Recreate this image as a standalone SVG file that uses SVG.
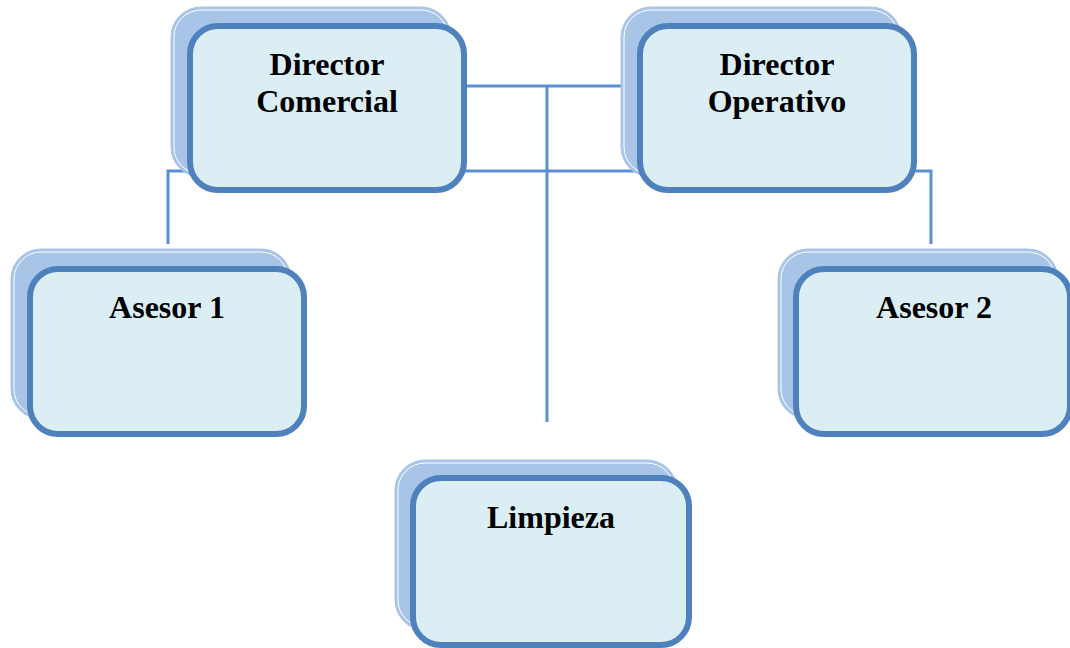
<svg xmlns="http://www.w3.org/2000/svg" width="1070" height="648" viewBox="0 0 1070 648">
<style>
.back{fill:#A8C5E8;stroke:#A8C5E8;stroke-width:1}
.backline{fill:none;stroke:#FFFFFF;stroke-width:1}
.front{fill:#DBEEF4;stroke:#4F81BD;stroke-width:6}
.conn{fill:none;stroke:#5B8FD5;stroke-width:3}
.lbl{font-family:"Liberation Serif","Times New Roman",serif;font-weight:bold;font-size:32px;fill:#000;text-anchor:middle}
</style>
<rect width="1070" height="648" fill="#FFFFFF"/>
<g id="connectors">
<line class="conn" x1="460" y1="86" x2="645" y2="86"/>
<polyline class="conn" points="168,244 168,171 931,171 931,244"/>
<line class="conn" x1="547" y1="86" x2="547" y2="422"/>
</g>
<g id="director-comercial">
<rect class="back" x="171" y="7" width="280" height="170" rx="30"/>
<rect class="backline" x="174" y="10" width="274" height="164" rx="27"/>
<rect class="front" x="190" y="26" width="274" height="164" rx="28"/>
<text class="lbl" x="327" y="75">Director</text>
<text class="lbl" x="327" y="112">Comercial</text>
</g>
<g id="director-operativo">
<rect class="back" x="621" y="7" width="280" height="170" rx="30"/>
<rect class="backline" x="624" y="10" width="274" height="164" rx="27"/>
<rect class="front" x="640" y="26" width="274" height="164" rx="28"/>
<text class="lbl" x="777" y="75">Director</text>
<text class="lbl" x="777" y="112">Operativo</text>
</g>
<g id="asesor-1">
<rect class="back" x="11" y="249" width="280" height="170" rx="30"/>
<rect class="backline" x="14" y="252" width="274" height="164" rx="27"/>
<rect class="front" x="30" y="269" width="274" height="165" rx="28"/>
<text class="lbl" x="167" y="318">Asesor 1</text>
</g>
<g id="asesor-2">
<rect class="back" x="778" y="249" width="280" height="170" rx="30"/>
<rect class="backline" x="781" y="252" width="274" height="164" rx="27"/>
<rect class="front" x="796" y="269" width="274" height="165" rx="28"/>
<text class="lbl" x="934" y="318">Asesor 2</text>
</g>
<g id="limpieza">
<rect class="back" x="395" y="460" width="282" height="170" rx="30"/>
<rect class="backline" x="398" y="463" width="276" height="164" rx="27"/>
<rect class="front" x="413" y="478" width="276" height="167" rx="28"/>
<text class="lbl" x="551" y="528">Limpieza</text>
</g>
</svg>
